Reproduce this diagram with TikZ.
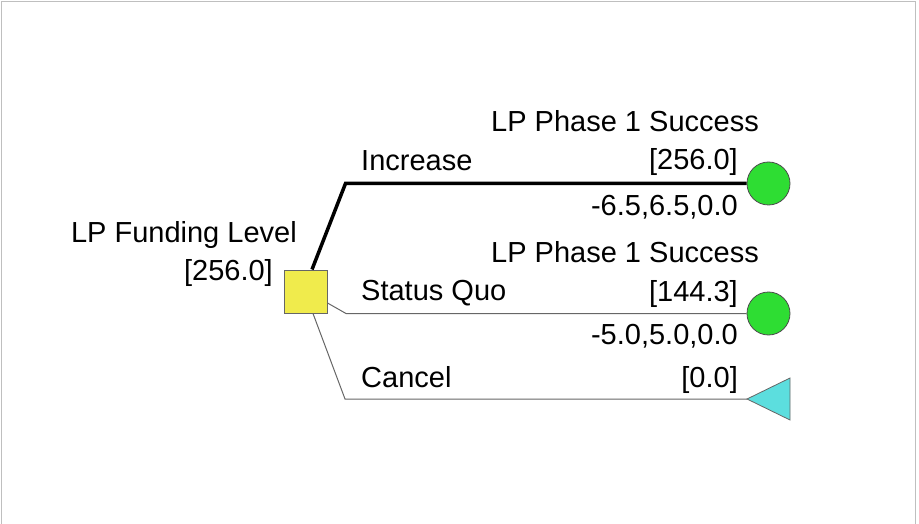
\documentclass[tikz,border=0pt]{standalone}
\usepackage{fontspec}
\setmainfont{Liberation Sans}
\begin{document}
\begin{tikzpicture}[x=1pt,y=-1pt,
  lbl/.style={inner sep=0pt,font=\fontsize{29}{34}\selectfont},
  decision/.style={draw=black!60,fill=decfill,minimum size=43pt,inner sep=0pt,line width=1pt},
  chance/.style={circle,draw=black!70,fill=chancefill,minimum size=43pt,inner sep=0pt,line width=0.8pt},
  endpt/.style={draw=black!60,fill=endfill,line width=0.8pt,line join=miter},
  chosen/.style={line width=3.5pt,black,line join=miter},
  branch/.style={line width=1pt,black!60},
  frame/.style={line width=1.6pt,black!25}]
\definecolor{decfill}{HTML}{F0EB4C}
\definecolor{chancefill}{HTML}{2EDD33}
\definecolor{endfill}{HTML}{5CDEDE}
\useasboundingbox (0,0) rectangle (919,524);
% outer frame
\draw[frame] (1.5,524) -- (1.5,1.5) -- (915.5,1.5) -- (915.5,524);

% nodes
\node[decision] (fund) at (305.5,291.5) {};
\node[chance] (succ1) at (768.5,183.5) {};
\node[chance] (succ2) at (768.5,313.5) {};
\coordinate (cancel) at (747,399);
\draw[endpt] (cancel) -- ++(43,-21) -- ++(0,42) -- cycle;

% branches
\coordinate (kinc) at (345.5,183.5);
\coordinate (ksq) at (346,313.5);
\coordinate (kcan) at (345,399);
\draw[chosen] ([xshift=6.5pt]fund.north) -- (kinc) -- (succ1.west);
\draw[branch] ([yshift=-11.5pt]fund.east) -- (ksq) -- (succ2.west);
\draw[branch] ([xshift=7.5pt]fund.south) -- (kcan) -- (cancel);

% decision labels
\node[lbl,anchor=base east] (fundname) at (297,242) {LP Funding Level};
\node[lbl,anchor=base east] (fundval) at (273,280) {[256.0]};

% branch labels
\node[lbl,anchor=base west] (tinc) at (361,171) {Increase};
\node[lbl,anchor=base west] (tsq) at (361,300) {Status Quo};
\node[lbl,anchor=base west] (tcan) at (361,387) {Cancel};

% chance node labels
\node[lbl,anchor=base east] (s1name) at (759,132) {LP Phase 1 Success};
\node[lbl,anchor=base east] (s1val) at (738,170) {[256.0]};
\node[lbl,anchor=base east] (s1pay) at (738,215) {-6.5,6.5,0.0};
\node[lbl,anchor=base east] (s2name) at (759,262) {LP Phase 1 Success};
\node[lbl,anchor=base east] (s2val) at (738,301) {[144.3]};
\node[lbl,anchor=base east] (s2pay) at (738,344) {-5.0,5.0,0.0};
\node[lbl,anchor=base east] (cval) at (738,387) {[0.0]};
\end{tikzpicture}
\end{document}
